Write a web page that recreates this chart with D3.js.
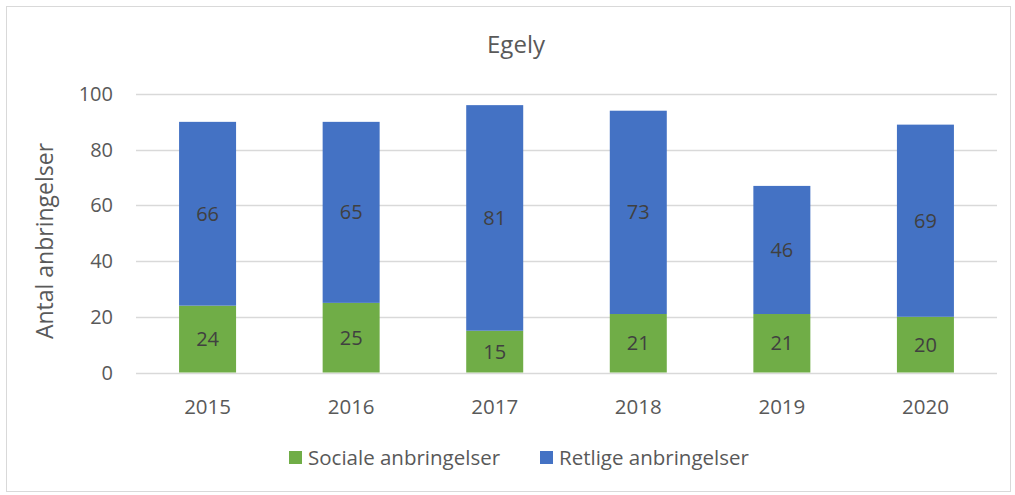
<!DOCTYPE html>
<html>
<head>
<meta charset="utf-8">
<script src="https://cdn.jsdelivr.net/npm/d3@7"></script>
<style>
  body { margin: 0; background: #fff; }
  text { font-family: "Open Sans", "Noto Sans", sans-serif; }
</style>
</head>
<body>
<div id="chart"></div>
<script>
var years = ['2015', '2016', '2017', '2018', '2019', '2020'];
var sociale = [24, 25, 15, 21, 21, 20];
var retlige = [66, 65, 81, 73, 46, 69];
var seriesNames = ['Sociale anbringelser', 'Retlige anbringelser'];
var seriesColors = ['#70ad47', '#4472c4'];
var yTicks = [0, 20, 40, 60, 80, 100];

var width = 1015, height = 495;
var margin = { left: 136, right: 18, top: 94, bottom: 121 };

var svg = d3.select('#chart')
  .append('svg')
  .attr('width', width)
  .attr('height', height);

svg.append('rect')
  .attr('x', 6.5).attr('y', 6.5)
  .attr('width', width - 11).attr('height', height - 10)
  .attr('fill', '#fff')
  .attr('stroke', '#d9d9d9');

var x = d3.scaleBand()
  .domain(years)
  .range([margin.left, width - margin.right])
  .paddingInner(0.603)
  .paddingOuter(0.3);

var y = d3.scaleLinear()
  .domain([0, 100])
  .range([height - margin.bottom - 1.5, margin.top]);

// gridlines
svg.append('g')
  .selectAll('line')
  .data(yTicks)
  .enter()
  .append('line')
  .attr('x1', margin.left)
  .attr('x2', width - margin.right)
  .attr('y1', function(d) { return Math.round(y(d)) + 0.5; })
  .attr('y2', function(d) { return Math.round(y(d)) + 0.5; })
  .attr('stroke', '#d9d9d9')
  .attr('stroke-width', 1.5);

// y labels
svg.append('g')
  .selectAll('text')
  .data(yTicks)
  .enter()
  .append('text')
  .attr('x', 113)
  .attr('y', function(d) { return y(d); })
  .attr('dy', '0.35em')
  .attr('text-anchor', 'end')
  .attr('font-size', 20)
  .attr('fill', '#595959')
  .text(function(d) { return d; });

// x labels
svg.append('g')
  .selectAll('text')
  .data(years)
  .enter()
  .append('text')
  .attr('x', function(d) { return x(d) + x.bandwidth() / 2; })
  .attr('y', 414)
  .attr('text-anchor', 'middle')
  .attr('font-size', 20.5)
  .attr('fill', '#595959')
  .text(function(d) { return d; });

var rows = years.map(function(yr, i) {
  return { year: yr, sociale: sociale[i], retlige: retlige[i] };
});
var stack = d3.stack().keys(['sociale', 'retlige'])(rows);

var layers = svg.append('g')
  .selectAll('g')
  .data(stack)
  .enter()
  .append('g')
  .attr('fill', function(d, i) { return seriesColors[i]; });

layers.selectAll('rect')
  .data(function(d) { return d; })
  .enter()
  .append('rect')
  .attr('x', function(d) { return x(d.data.year); })
  .attr('width', x.bandwidth())
  .attr('y', function(d) { return y(d[1]); })
  .attr('height', function(d) { return y(d[0]) - y(d[1]); });

layers.selectAll('text')
  .data(function(d) { return d; })
  .enter()
  .append('text')
  .attr('x', function(d) { return x(d.data.year) + x.bandwidth() / 2; })
  .attr('y', function(d) { return (y(d[0]) + y(d[1])) / 2; })
  .attr('dy', '0.35em')
  .attr('text-anchor', 'middle')
  .attr('font-size', 20)
  .attr('fill', '#404040')
  .text(function(d) { return d[1] - d[0]; });

// title
svg.append('text')
  .attr('x', 516)
  .attr('y', 53)
  .attr('text-anchor', 'middle')
  .attr('font-size', 24)
  .attr('fill', '#595959')
  .text('Egely');

// y axis title
svg.append('text')
  .attr('transform', 'translate(53,241) rotate(-90)')
  .attr('text-anchor', 'middle')
  .attr('font-size', 23)
  .attr('fill', '#595959')
  .text('Antal anbringelser');

// legend
var legendX = [289, 540];
var legend = svg.append('g')
  .selectAll('g')
  .data(seriesNames)
  .enter()
  .append('g')
  .attr('transform', function(d, i) { return 'translate(' + legendX[i] + ',451)'; });

legend.append('rect')
  .attr('width', 13).attr('height', 13)
  .attr('fill', function(d, i) { return seriesColors[i]; });

legend.append('text')
  .attr('x', 19)
  .attr('y', 7)
  .attr('dy', '0.35em')
  .attr('font-size', 20.5)
  .attr('fill', '#595959')
  .text(function(d) { return d; });
</script>
</body>
</html>
